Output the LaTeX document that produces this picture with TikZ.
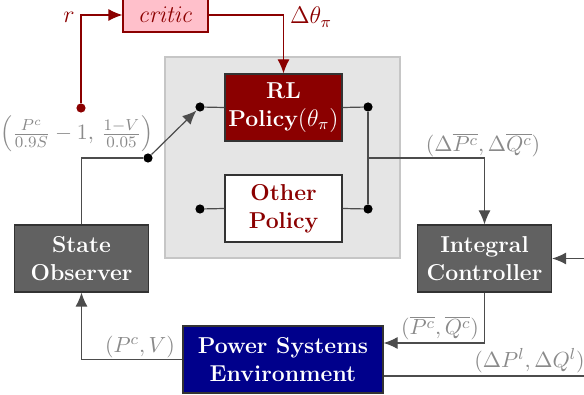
\documentclass[tikz,border=0pt]{standalone}
\usetikzlibrary{arrows.meta}
\definecolor{dred}{HTML}{8B0000}
\definecolor{navyb}{HTML}{00008B}
\definecolor{dgray}{HTML}{616161}
\definecolor{pinkc}{HTML}{FFC0CB}
\definecolor{lbl}{HTML}{8A8A8A}
\begin{document}
\begin{tikzpicture}[x=0.5pt,y=-0.5pt,
  box/.style={draw=black!80,line width=0.6pt,inner sep=0pt,align=center,font=\fontsize{11.5}{14}\selectfont\bfseries,text=white},
  wire/.style={draw=black!70,line width=0.6pt},
  arr/.style={wire,-{Latex[length=7pt,width=6pt]}},
  rwire/.style={draw=dred,line width=0.6pt},
  rarr/.style={rwire,-{Latex[length=7pt,width=6pt]}},
  dot/.style={circle,fill=black,inner sep=0pt,minimum size=4.6pt},
  rdot/.style={circle,fill=dred,inner sep=0pt,minimum size=4.6pt},
  lab/.style={text=lbl,inner sep=0pt,font=\fontsize{11.3}{14}\selectfont}]
\useasboundingbox (0,0) rectangle (584,395);
% panel
\node[draw=gray!45,fill=gray!20,line width=0.6pt,minimum width=117.5pt,minimum height=100.5pt,inner sep=0pt] (panel) at (282.5,157.5) {};
% blocks
\node[draw=dred,fill=pinkc,line width=0.6pt,minimum width=42.5pt,minimum height=17pt,inner sep=0pt,text=dred,font=\fontsize{11.5}{14}\selectfont] (critic) at (165.5,15) {$\mathit{critic}$};
\node[box,fill=dred,minimum width=58.5pt,minimum height=33.5pt] (RL) at (283.5,107.5) {RL\\Policy$(\theta_\pi)$};
\node[box,fill=white,text=dred,minimum width=58.5pt,minimum height=33.5pt] (OP) at (283.5,208.5) {Other\\Policy};
\node[box,fill=dgray,minimum width=67pt,minimum height=33.5pt] (SO) at (81.5,258.5) {State\\Observer};
\node[box,fill=dgray,minimum width=67pt,minimum height=33.5pt] (IC) at (484.5,258.5) {Integral\\Controller};
\node[box,fill=navyb,minimum width=100pt,minimum height=33.5pt] (PS) at (283,359.5) {Power Systems\\Environment};
% dots
\node[dot] (d0) at (148,158) {};
\node[dot] (d1) at (200,107) {};
\node[dot] (d2) at (200,209) {};
\node[dot] (d3) at (368,107) {};
\node[dot] (d4) at (368,209) {};
\coordinate (j) at (368,158);
\node[rdot] (rd) at (81,108) {};
\coordinate (inR) at (592,258.5);
\coordinate (outR) at (592,376);
% red critic loop
\draw[rarr] (rd) |- (critic.west);
\draw[rarr] (critic.east) -| (RL.north);
\node[text=dred,font=\fontsize{11.5}{14}\selectfont,inner sep=0pt] (rlab) at (69,17) {$r$};
\node[text=dred,font=\fontsize{11.5}{14}\selectfont,inner sep=0pt] (dtlab) at (311,17) {$\Delta\theta_\pi$};
% switch
\draw[wire] (SO.north) |- (d0);
\draw[arr] (d0) -- (d1);
\draw[wire] (d1) -- (RL.west);
\draw[wire] (d2) -- (OP.west);
\draw[wire] (RL.east) -- (d3);
\draw[wire] (OP.east) -- (d4);
\draw[wire] (d3) -- (d4);
\draw[arr] (j) -| (IC.north);
% lower loop
\draw[arr] (inR) -- (IC.east);
\draw[arr] (IC.south) |- ([yshift=8.25pt]PS.east);
\draw[arr] (PS.west) -| (SO.south);
\draw[wire] ([yshift=-8.25pt]PS.east) -- (outR);
% labels
\node[lab] (l1) at (77,134) {$\Bigl(\frac{P^c}{0.9S}-1,\,\frac{1-V}{0.05}\Bigr)$};
\node[lab] (l2) at (483,145) {$(\Delta\overline{P^c},\Delta\overline{Q^c})$};
\node[lab] (l3) at (440,328) {$(\overline{P^c},\overline{Q^c})$};
\node[lab] (l4) at (140,347) {$(P^c,V)$};
\node[lab,anchor=east] (l5) at (585,361) {$(\Delta P^l,\Delta Q^l)$};
\end{tikzpicture}
\end{document}
